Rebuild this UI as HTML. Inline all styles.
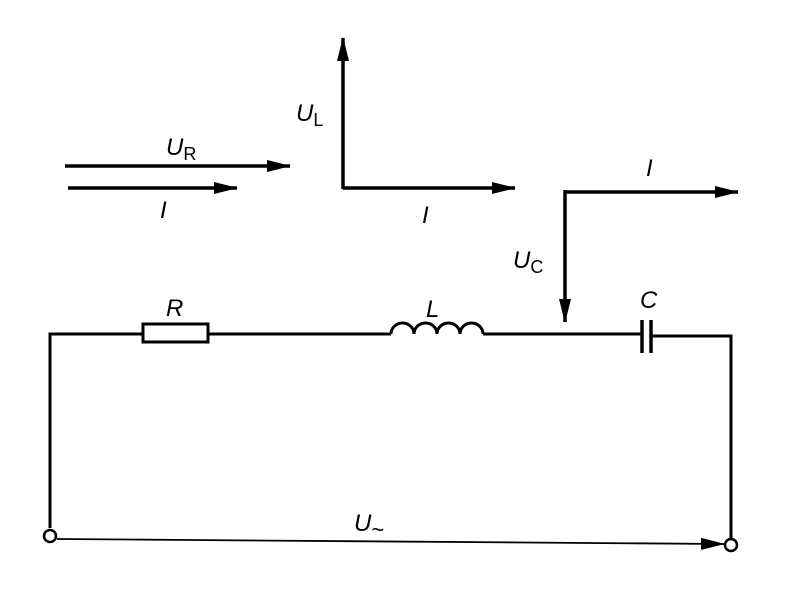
<!DOCTYPE html>
<html><head><style>body{margin:0;background:#fff}svg{display:block}</style></head><body>
<svg width="804" height="615" viewBox="0 0 804 615" xmlns="http://www.w3.org/2000/svg" font-family="Liberation Sans, sans-serif" font-size="24" font-style="italic">
<defs><marker id="b" markerWidth="24" markerHeight="12" refX="23" refY="6" orient="auto" markerUnits="userSpaceOnUse"><path d="M0,0 L24,6 L0,12 z" fill="#000"/></marker></defs>
<g stroke="#000" fill="none" stroke-width="3.5">
<line x1="65" y1="166" x2="290" y2="166" marker-end="url(#b)"/>
<line x1="68" y1="188" x2="237" y2="188" marker-end="url(#b)"/>
<line x1="343" y1="189" x2="343" y2="38" marker-end="url(#b)"/>
<line x1="343" y1="188" x2="515" y2="188" marker-end="url(#b)"/>
<line x1="565" y1="190" x2="565" y2="322" marker-end="url(#b)"/>
<line x1="565" y1="192" x2="738" y2="192" marker-end="url(#b)"/>
<polyline points="50,528 50,334 143,334" stroke-width="3"/>
<rect x="143" y="324" width="65" height="18" stroke-width="3"/>
<line x1="208" y1="334" x2="391" y2="334" stroke-width="3"/>
<path d="M391,334 a11.5,11 0 0 1 23,0 a11.5,11 0 0 1 23,0 a11.5,11 0 0 1 23,0 a11.5,11 0 0 1 23,0" stroke-width="3"/>
<line x1="483" y1="334" x2="642" y2="334" stroke-width="3"/>
<line x1="642" y1="320" x2="642" y2="353" stroke-width="3.5"/>
<line x1="651" y1="320" x2="651" y2="353" stroke-width="3.5"/>
<polyline points="651,336 731,336 731,538" stroke-width="3"/>
<circle cx="50" cy="536" r="6" stroke-width="2.5"/>
<circle cx="731" cy="545" r="6" stroke-width="2.5"/>
<line x1="57" y1="539" x2="724" y2="544" stroke-width="1.8" marker-end="url(#b)"/>
</g>
<g fill="#000">
<text x="166" y="155">U<tspan font-style="normal" font-size="18" dy="5">R</tspan></text>
<text x="160" y="218">I</text>
<text x="296" y="121">U<tspan font-style="normal" font-size="18" dy="5">L</tspan></text>
<text x="422" y="223">I</text>
<text x="646" y="176">I</text>
<text x="513" y="268">U<tspan font-style="normal" font-size="18" dy="5">C</tspan></text>
<text x="166" y="316">R</text>
<text x="426" y="317">L</text>
<text x="640" y="308">C</text>
<text x="354" y="531">U<tspan font-style="normal" font-size="22" dy="6">~</tspan></text>
</g>
</svg>
</body></html>
